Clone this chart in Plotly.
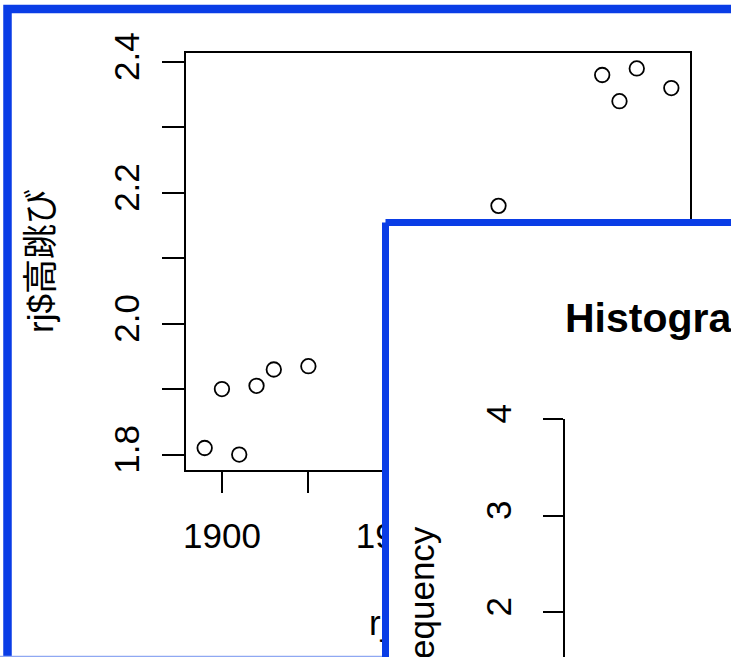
import plotly.graph_objects as go

# ---- data (scatter: rj$年 vs rj$高跳び) ----
years = [1896, 1900, 1904, 1908, 1912, 1920, 1964, 1988, 1992, 1996, 2004]
heights = [1.81, 1.90, 1.80, 1.905, 1.93, 1.935, 2.18, 2.38, 2.34, 2.39, 2.36]
x_ticks = [1900, 1920, 1940, 1960, 1980, 2000]
x_ticklabels = ["1900", "", "1940", "", "1980", ""]
y_ticks = [1.8, 1.9, 2.0, 2.1, 2.2, 2.3, 2.4]
y_ticklabels = ["1.8", "", "2.0", "", "2.2", "", "2.4"]
# ---- histogram window (partly visible) ----
hist_ticks = [2, 3, 4]
hist_ticklabels = ["2", "3", "4"]
hist_title = "Histogram of rj$高跳び"
hist_ylabel = "Frequency"
scatter_ylabel = "rj$高跳び"
scatter_xlabel = "rj$開催年"

W, H = 731, 657
BLUE = "#0a3de6"
FONT = "Liberation Sans, Arial, Noto Sans CJK JP"
FS = 35

def px(x):
    return x / W

def py(y):
    return 1 - y / H

# R-style 4% padded ranges
xr = [min(years) - 0.04 * (max(years) - min(years)), max(years) + 0.04 * (max(years) - min(years))]
yr = [min(heights) - 0.04 * (max(heights) - min(heights)), max(heights) + 0.04 * (max(heights) - min(heights))]

fig = go.Figure()

# scatter subplot (xy)
fig.add_trace(go.Scatter(
    x=years, y=heights, mode="markers", xaxis="x", yaxis="y",
    marker=dict(symbol="circle-open", size=14.5, color="black", line=dict(width=1.8, color="black")),
    showlegend=False, hoverinfo="skip",
))

# canvas subplot (x2y2): window frames drawn over the scatter window
fig.add_trace(go.Scatter(  # outer window frame
    x=[7.5, 7.5, 900], y=[700, 9, 9], mode="lines", xaxis="x2", yaxis="y2",
    line=dict(color=BLUE, width=8.5), showlegend=False, hoverinfo="skip",
))
fig.add_trace(go.Scatter(  # faint bottom edge of outer window
    x=[0, 400], y=[656.5, 656.5], mode="lines", xaxis="x2", yaxis="y2",
    line=dict(color="#8fa8f2", width=1.5), showlegend=False, hoverinfo="skip",
))
fig.add_trace(go.Scatter(  # scatter x-axis title (covered by second window)
    x=[441], y=[626], mode="text", text=[scatter_xlabel], xaxis="x2", yaxis="y2",
    textfont=dict(family=FONT, size=FS, color="black"), textposition="middle center",
    showlegend=False, hoverinfo="skip",
))
fig.add_trace(go.Scatter(  # second window (histogram) with white fill
    x=[385.5, 900, 900, 385.5, 385.5], y=[222.5, 222.5, 900, 900, 222.5], mode="lines",
    fill="toself", fillcolor="white", xaxis="x2", yaxis="y2",
    line=dict(color=BLUE, width=7), showlegend=False, hoverinfo="skip",
))

# histogram subplot (x3y3): only its y axis is visible
unit = 96.5
top_px = 419
fig.add_trace(go.Scatter(
    x=[0], y=[None], mode="markers", xaxis="x3", yaxis="y3",
    showlegend=False, hoverinfo="skip",
))

axis_common = dict(
    showline=True, linecolor="black", linewidth=1.5, ticks="outside", tickcolor="black",
    tickwidth=1.5, showgrid=False, zeroline=False, automargin=False,
    tickfont=dict(family=FONT, size=FS, color="black"),
)

fig.update_layout(
    template="none",
    width=W, height=H, margin=dict(l=0, r=0, t=0, b=0, pad=0), autosize=False,
    paper_bgcolor="white", plot_bgcolor="rgba(0,0,0,0)",
    xaxis=dict(domain=[px(186), px(690)], range=xr, anchor="y", mirror=True,
               tickvals=x_ticks, ticktext=x_ticklabels, ticklen=21, ticklabelstandoff=13,
               **axis_common),
    yaxis=dict(domain=[py(470), py(53)], range=yr, anchor="x", mirror=True,
               tickvals=y_ticks, ticktext=y_ticklabels, ticklen=22, tickangle=-90,
               ticklabelstandoff=9, **axis_common),
    xaxis2=dict(domain=[0, 1], range=[0, W], visible=False, anchor="y2", automargin=False),
    yaxis2=dict(domain=[0, 1], range=[H, 0], visible=False, anchor="x2", automargin=False),
    xaxis3=dict(domain=[px(565), 1], range=[0, 1], visible=False, anchor="y3", automargin=False),
    yaxis3=dict(domain=[0, py(top_px)], range=[4 - (H - top_px) / unit, 4], anchor="x3",
                tickvals=hist_ticks, ticktext=hist_ticklabels, ticklen=20, tickangle=-90,
                ticklabelstandoff=18, **axis_common),
    annotations=[
        dict(text=scatter_ylabel, x=40, y=261, xref="x2", yref="y2", showarrow=False,
             textangle=-90, font=dict(family=FONT, size=FS, color="black"),
             xanchor="center", yanchor="middle"),
        dict(text="<b>" + hist_title + "</b>", x=563, y=318, xref="x2", yref="y2", showarrow=False,
             font=dict(family=FONT, size=41, color="black"), xanchor="left", yanchor="middle"),
        dict(text=hist_ylabel, x=421, y=609, xref="x2", yref="y2", showarrow=False,
             textangle=-90, font=dict(family=FONT, size=FS, color="black"),
             xanchor="center", yanchor="middle"),
    ],
)

fig.write_html(
    "out.html",
    config={"displayModeBar": False},
    post_script="document.body.style.margin='0';document.body.style.padding='0';document.body.style.overflow='hidden';",
)
